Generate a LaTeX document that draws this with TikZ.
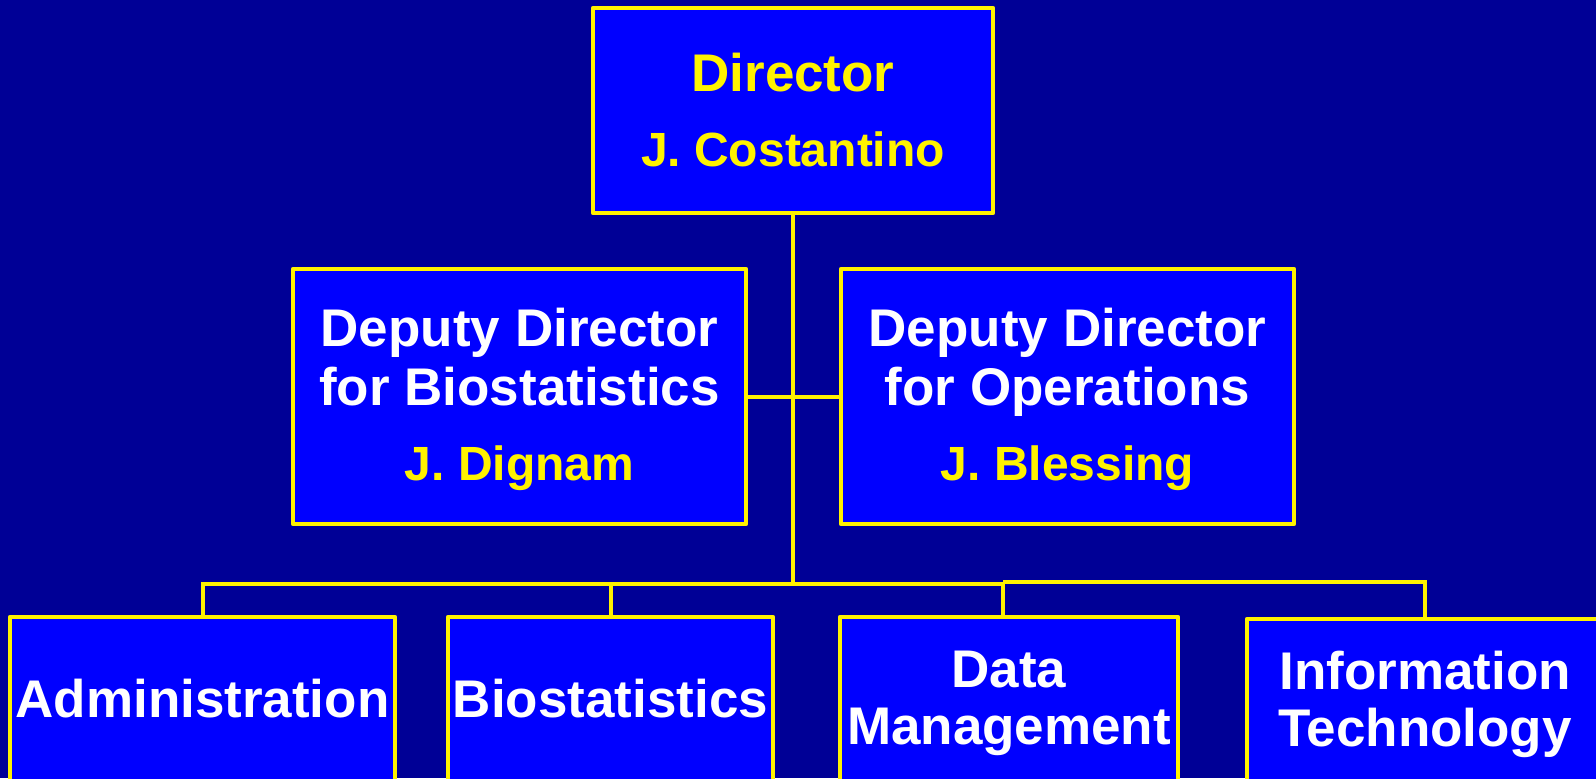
\documentclass[tikz,border=0pt]{standalone}
\usepackage{fontspec}
\setmainfont{Liberation Sans}
\definecolor{navy}{RGB}{0,0,150}
\definecolor{boxblue}{RGB}{0,0,255}
\tikzstyle{box} = [draw=yellow, fill=boxblue, line width=2.4pt, line join=round, inner sep=0pt, align=center, text=white, font=\bfseries\fontsize{26.5}{28}\selectfont]
\tikzstyle{deputy} = [box, minimum width=226.5pt, minimum height=127.5pt, font=\bfseries\fontsize{26.5}{29.5}\selectfont]
\tikzstyle{unit} = [box, minimum height=82pt, font=\bfseries\fontsize{26.5}{28.5}\selectfont]
\tikzstyle{line} = [draw=yellow, line width=2pt]
\newcommand{\who}[1]{{\color{yellow}\fontsize{24}{28}\selectfont #1}}
\newcommand{\topstrut}{\rule{0pt}{22.5pt}}

\begin{document}
\begin{tikzpicture}[x=0.5pt, y=-0.5pt]
    \useasboundingbox (0,0) rectangle (1596,778);
    \clip (0,0) rectangle (1596,778);
    \fill[navy] (0,0) rectangle (1596,778);

    % Place nodes
    \node [box, text=yellow, minimum width=200pt, minimum height=102.5pt] (director) at (793,110.5)
        {Director\\[9.5pt]\who{J. Costantino}};
    \node [deputy] (dep-bio) at (519.5,396.5)
        {\topstrut Deputy Director\\for Biostatistics\\[8pt]\who{J. Dignam}};
    \node [deputy] (dep-ops) at (1067.5,396.5)
        {\topstrut Deputy Director\\for Operations\\[8pt]\who{J. Blessing}};
    \node [unit, minimum width=192.5pt] (admin) at (202.5,699) {Administration};
    \node [unit, minimum width=162.5pt] (biostat) at (610.5,699) {Biostatistics};
    \node [unit, minimum width=169pt, minimum height=86pt] (datamgmt) at (1009,703) {Data\\Management};
    \node [unit, minimum width=178pt, minimum height=85pt] (infotech) at (1425,704) {Information\\Technology};

    % Bus points
    \coordinate (bus) at (793,584);
    \coordinate (itbus) at (1003,582);

    % Draw edges
    \path [line] (director) -- (bus);
    \path [line] (dep-bio) -- (dep-ops);
    \path [line] (admin.north) |- (bus);
    \path [line] (biostat.north) |- (bus);
    \path [line] ([xshift=-3pt]datamgmt.north) |- (bus);
    \path [line] (itbus) -| (infotech.north);
\end{tikzpicture}
\end{document}
